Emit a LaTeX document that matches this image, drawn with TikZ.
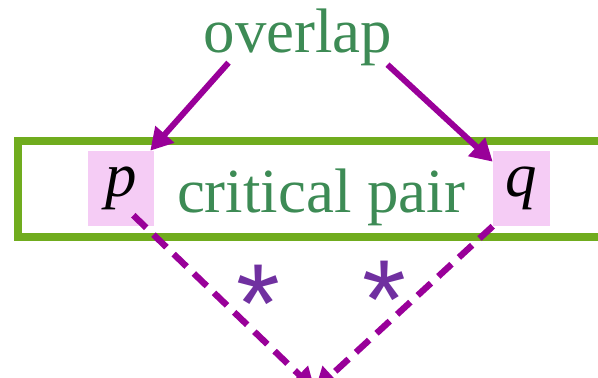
\documentclass[tikz,border=0pt]{standalone}
\usepackage{fontspec}
\setmainfont{Liberation Serif}
\newfontfamily\starfont{Liberation Sans}
\usetikzlibrary{arrows.meta}
\definecolor{txtgreen}{RGB}{61,139,85}
\definecolor{framegreen}{RGB}{112,172,30}
\definecolor{rewpurple}{RGB}{153,0,153}
\definecolor{starpurple}{RGB}{112,48,160}
\definecolor{termpink}{RGB}{245,204,245}

\begin{document}
\begin{tikzpicture}[>={Triangle[length=0.55cm,width=0.6cm]},
  font=\fontsize{44.7}{50}\selectfont,
  word/.style={txtgreen,inner sep=0pt,anchor=base},
  term/.style={fill=termpink,inner sep=0pt,minimum width=1.65cm,minimum height=1.875cm},
  star/.style={starpurple,inner sep=0pt,font=\starfont\fontsize{80}{80}\selectfont},
  rew/.style={->,rewpurple,line width=0.15cm},
  rewstar/.style={rew,line width=0.16cm,dash pattern=on 0.45cm off 0.25cm}]
\useasboundingbox (0,0) rectangle (14.95,9.45);
\draw[framegreen,line width=0.2cm] (0.45,3.525) rectangle (15.6,5.925);
\node[term] (p) at (3.025,4.7375) {\textit{p}};
\node[term,minimum width=1.425cm] (q) at (13.0375,4.7375) {\textit{q}};
\node[word] (ov) at (7.45,8.125) {overlap};
\node[word] (cp) at (8.025,4.125) {critical pair};
\node[star] (s1) at (6.45,1.85) {*};
\node[star] (s2) at (9.6,1.95) {*};
\coordinate (join) at (7.875,-0.3);
\draw[rew] ([xshift=0.625cm,yshift=0.1cm]ov.south west) -- ([xshift=-0.1cm]p.north east);
\draw[rew] ([xshift=-0.125cm,yshift=0.05cm]ov.south east) -- ([yshift=-0.275cm]q.north west);
\draw[rewstar] ([xshift=-0.525cm,yshift=0.275cm]p.south east) -- (join);
\draw[rewstar] (q.south west) -- (join);
\end{tikzpicture}
\end{document}
